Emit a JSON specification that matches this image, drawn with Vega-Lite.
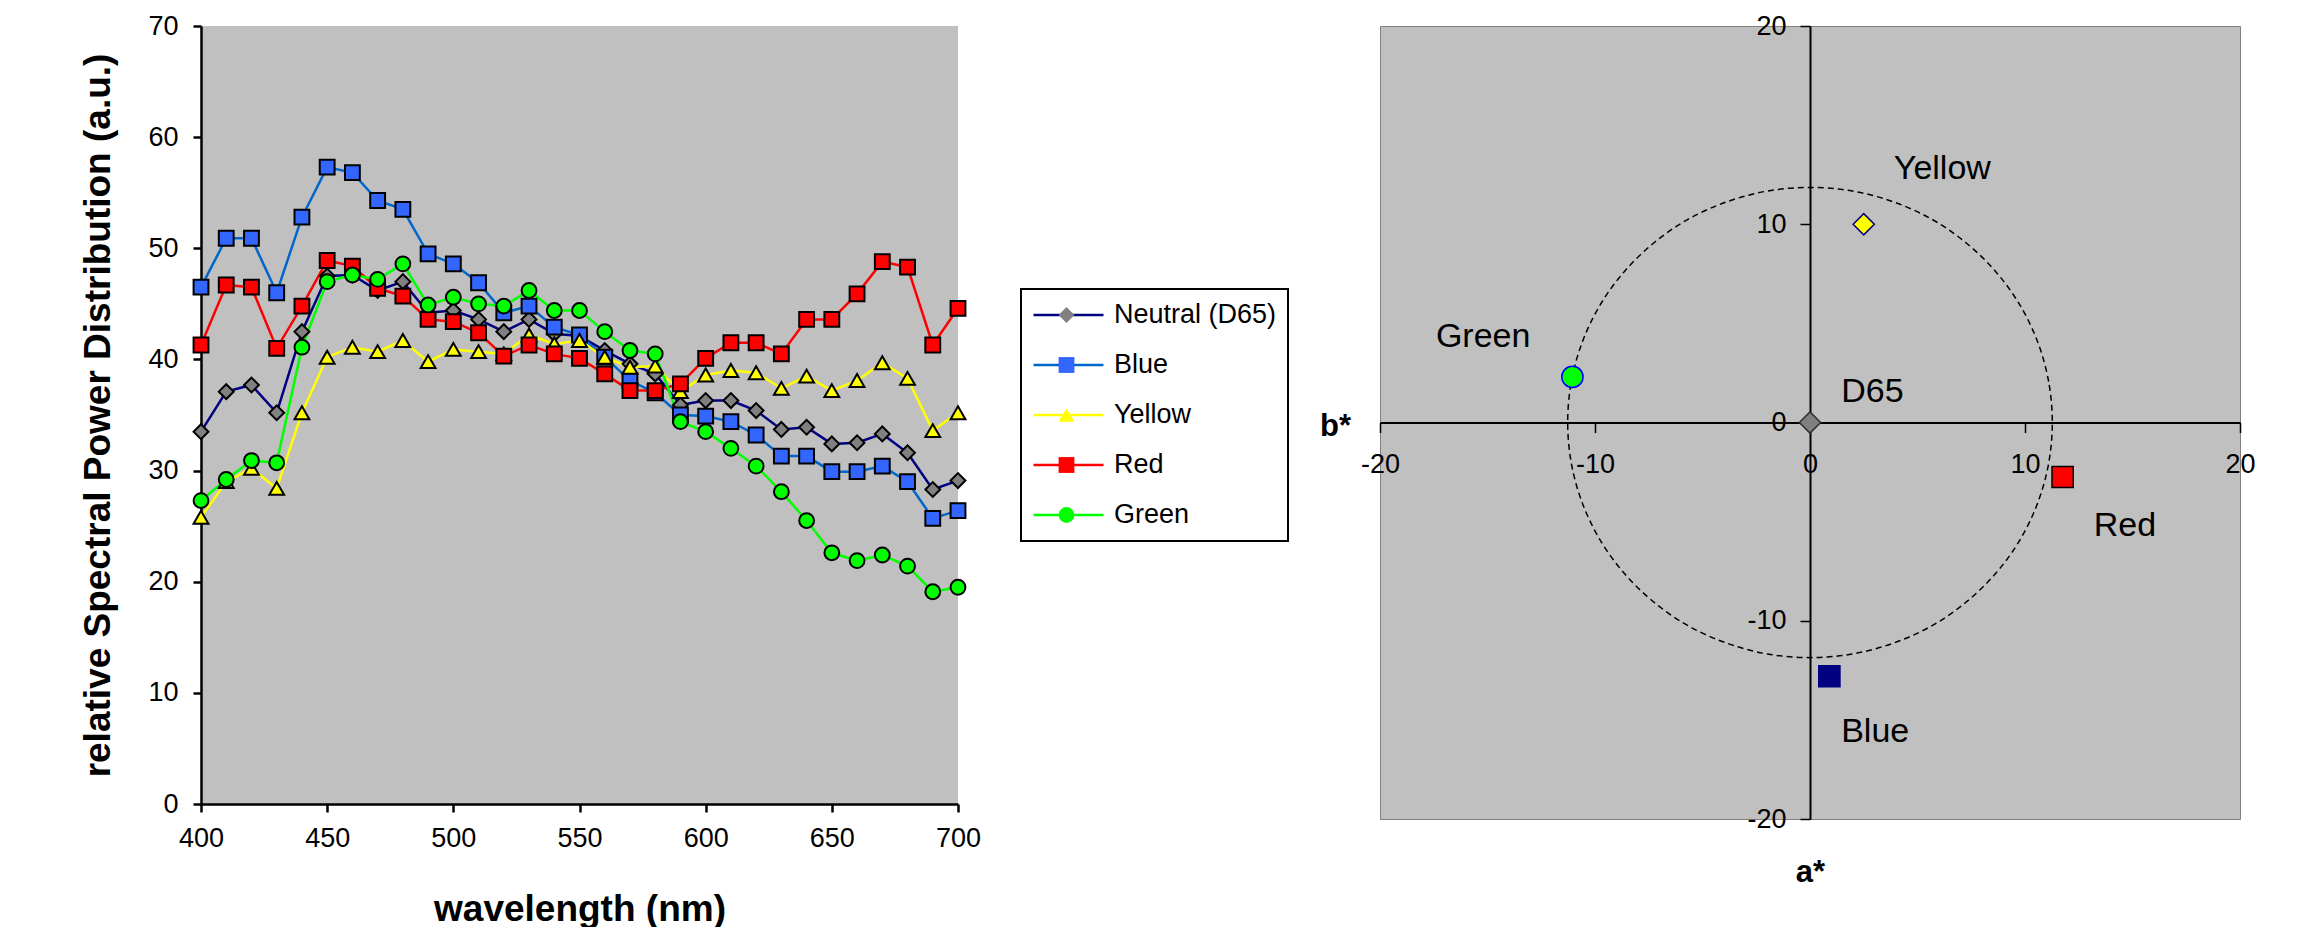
{
  "$schema": "https://vega.github.io/schema/vega-lite/v6.json",
  "padding": {"left": 79, "top": 11, "right": 0, "bottom": 0},
  "background": "white",
  "spacing": 30,
  "config": {
    "font": "Liberation Sans",
    "axis": {"labelFont": "Liberation Sans", "labelColor": "black", "titleFont": "Liberation Sans", "titleColor": "black", "grid": false, "domainColor": "black", "tickColor": "black"},
    "legend": {"labelFont": "Liberation Sans", "strokeWidth": 2},
    "text": {"font": "Liberation Sans"}
  },
  "datasets": {
    "spd": [
      {"series": "Neutral (D65)", "nm": 400, "v": 33.5}, {"series": "Neutral (D65)", "nm": 410, "v": 37.1}, {"series": "Neutral (D65)", "nm": 420, "v": 37.7}, {"series": "Neutral (D65)", "nm": 430, "v": 35.2}, {"series": "Neutral (D65)", "nm": 440, "v": 42.5}, {"series": "Neutral (D65)", "nm": 450, "v": 47.5}, {"series": "Neutral (D65)", "nm": 460, "v": 47.6}, {"series": "Neutral (D65)", "nm": 470, "v": 46.2}, {"series": "Neutral (D65)", "nm": 480, "v": 47.0}, {"series": "Neutral (D65)", "nm": 490, "v": 44.2}, {"series": "Neutral (D65)", "nm": 500, "v": 44.4}, {"series": "Neutral (D65)", "nm": 510, "v": 43.6}, {"series": "Neutral (D65)", "nm": 520, "v": 42.5}, {"series": "Neutral (D65)", "nm": 530, "v": 43.6}, {"series": "Neutral (D65)", "nm": 540, "v": 42.3}, {"series": "Neutral (D65)", "nm": 550, "v": 42.1}, {"series": "Neutral (D65)", "nm": 560, "v": 40.8}, {"series": "Neutral (D65)", "nm": 570, "v": 39.6}, {"series": "Neutral (D65)", "nm": 580, "v": 38.7}, {"series": "Neutral (D65)", "nm": 590, "v": 35.9}, {"series": "Neutral (D65)", "nm": 600, "v": 36.3}, {"series": "Neutral (D65)", "nm": 610, "v": 36.3}, {"series": "Neutral (D65)", "nm": 620, "v": 35.4}, {"series": "Neutral (D65)", "nm": 630, "v": 33.7}, {"series": "Neutral (D65)", "nm": 640, "v": 33.9}, {"series": "Neutral (D65)", "nm": 650, "v": 32.4}, {"series": "Neutral (D65)", "nm": 660, "v": 32.5}, {"series": "Neutral (D65)", "nm": 670, "v": 33.3}, {"series": "Neutral (D65)", "nm": 680, "v": 31.6}, {"series": "Neutral (D65)", "nm": 690, "v": 28.3}, {"series": "Neutral (D65)", "nm": 700, "v": 29.1},
      {"series": "Blue", "nm": 400, "v": 46.5}, {"series": "Blue", "nm": 410, "v": 50.9}, {"series": "Blue", "nm": 420, "v": 50.9}, {"series": "Blue", "nm": 430, "v": 46.0}, {"series": "Blue", "nm": 440, "v": 52.8}, {"series": "Blue", "nm": 450, "v": 57.3}, {"series": "Blue", "nm": 460, "v": 56.8}, {"series": "Blue", "nm": 470, "v": 54.3}, {"series": "Blue", "nm": 480, "v": 53.5}, {"series": "Blue", "nm": 490, "v": 49.5}, {"series": "Blue", "nm": 500, "v": 48.6}, {"series": "Blue", "nm": 510, "v": 46.9}, {"series": "Blue", "nm": 520, "v": 44.2}, {"series": "Blue", "nm": 530, "v": 44.8}, {"series": "Blue", "nm": 540, "v": 42.9}, {"series": "Blue", "nm": 550, "v": 42.2}, {"series": "Blue", "nm": 560, "v": 40.2}, {"series": "Blue", "nm": 570, "v": 38.1}, {"series": "Blue", "nm": 580, "v": 37.0}, {"series": "Blue", "nm": 590, "v": 35.0}, {"series": "Blue", "nm": 600, "v": 34.9}, {"series": "Blue", "nm": 610, "v": 34.4}, {"series": "Blue", "nm": 620, "v": 33.2}, {"series": "Blue", "nm": 630, "v": 31.3}, {"series": "Blue", "nm": 640, "v": 31.3}, {"series": "Blue", "nm": 650, "v": 29.9}, {"series": "Blue", "nm": 660, "v": 29.9}, {"series": "Blue", "nm": 670, "v": 30.4}, {"series": "Blue", "nm": 680, "v": 29.0}, {"series": "Blue", "nm": 690, "v": 25.7}, {"series": "Blue", "nm": 700, "v": 26.4},
      {"series": "Yellow", "nm": 400, "v": 25.8}, {"series": "Yellow", "nm": 410, "v": 29.0}, {"series": "Yellow", "nm": 420, "v": 30.2}, {"series": "Yellow", "nm": 430, "v": 28.4}, {"series": "Yellow", "nm": 440, "v": 35.2}, {"series": "Yellow", "nm": 450, "v": 40.2}, {"series": "Yellow", "nm": 460, "v": 41.1}, {"series": "Yellow", "nm": 470, "v": 40.7}, {"series": "Yellow", "nm": 480, "v": 41.7}, {"series": "Yellow", "nm": 490, "v": 39.8}, {"series": "Yellow", "nm": 500, "v": 40.9}, {"series": "Yellow", "nm": 510, "v": 40.7}, {"series": "Yellow", "nm": 520, "v": 40.5}, {"series": "Yellow", "nm": 530, "v": 42.2}, {"series": "Yellow", "nm": 540, "v": 41.4}, {"series": "Yellow", "nm": 550, "v": 41.7}, {"series": "Yellow", "nm": 560, "v": 40.2}, {"series": "Yellow", "nm": 570, "v": 39.3}, {"series": "Yellow", "nm": 580, "v": 39.4}, {"series": "Yellow", "nm": 590, "v": 37.1}, {"series": "Yellow", "nm": 600, "v": 38.6}, {"series": "Yellow", "nm": 610, "v": 39.0}, {"series": "Yellow", "nm": 620, "v": 38.8}, {"series": "Yellow", "nm": 630, "v": 37.4}, {"series": "Yellow", "nm": 640, "v": 38.5}, {"series": "Yellow", "nm": 650, "v": 37.2}, {"series": "Yellow", "nm": 660, "v": 38.1}, {"series": "Yellow", "nm": 670, "v": 39.7}, {"series": "Yellow", "nm": 680, "v": 38.3}, {"series": "Yellow", "nm": 690, "v": 33.6}, {"series": "Yellow", "nm": 700, "v": 35.2},
      {"series": "Red", "nm": 400, "v": 41.3}, {"series": "Red", "nm": 410, "v": 46.7}, {"series": "Red", "nm": 420, "v": 46.5}, {"series": "Red", "nm": 430, "v": 41.0}, {"series": "Red", "nm": 440, "v": 44.8}, {"series": "Red", "nm": 450, "v": 48.9}, {"series": "Red", "nm": 460, "v": 48.4}, {"series": "Red", "nm": 470, "v": 46.4}, {"series": "Red", "nm": 480, "v": 45.7}, {"series": "Red", "nm": 490, "v": 43.6}, {"series": "Red", "nm": 500, "v": 43.4}, {"series": "Red", "nm": 510, "v": 42.4}, {"series": "Red", "nm": 520, "v": 40.3}, {"series": "Red", "nm": 530, "v": 41.3}, {"series": "Red", "nm": 540, "v": 40.5}, {"series": "Red", "nm": 550, "v": 40.1}, {"series": "Red", "nm": 560, "v": 38.7}, {"series": "Red", "nm": 570, "v": 37.2}, {"series": "Red", "nm": 580, "v": 37.2}, {"series": "Red", "nm": 590, "v": 37.8}, {"series": "Red", "nm": 600, "v": 40.1}, {"series": "Red", "nm": 610, "v": 41.5}, {"series": "Red", "nm": 620, "v": 41.5}, {"series": "Red", "nm": 630, "v": 40.5}, {"series": "Red", "nm": 640, "v": 43.6}, {"series": "Red", "nm": 650, "v": 43.6}, {"series": "Red", "nm": 660, "v": 45.9}, {"series": "Red", "nm": 670, "v": 48.8}, {"series": "Red", "nm": 680, "v": 48.3}, {"series": "Red", "nm": 690, "v": 41.3}, {"series": "Red", "nm": 700, "v": 44.6},
      {"series": "Green", "nm": 400, "v": 27.3}, {"series": "Green", "nm": 410, "v": 29.2}, {"series": "Green", "nm": 420, "v": 30.9}, {"series": "Green", "nm": 430, "v": 30.7}, {"series": "Green", "nm": 440, "v": 41.1}, {"series": "Green", "nm": 450, "v": 47.0}, {"series": "Green", "nm": 460, "v": 47.6}, {"series": "Green", "nm": 470, "v": 47.2}, {"series": "Green", "nm": 480, "v": 48.6}, {"series": "Green", "nm": 490, "v": 44.9}, {"series": "Green", "nm": 500, "v": 45.6}, {"series": "Green", "nm": 510, "v": 45.0}, {"series": "Green", "nm": 520, "v": 44.8}, {"series": "Green", "nm": 530, "v": 46.2}, {"series": "Green", "nm": 540, "v": 44.4}, {"series": "Green", "nm": 550, "v": 44.4}, {"series": "Green", "nm": 560, "v": 42.5}, {"series": "Green", "nm": 570, "v": 40.8}, {"series": "Green", "nm": 580, "v": 40.5}, {"series": "Green", "nm": 590, "v": 34.4}, {"series": "Green", "nm": 600, "v": 33.5}, {"series": "Green", "nm": 610, "v": 32.0}, {"series": "Green", "nm": 620, "v": 30.4}, {"series": "Green", "nm": 630, "v": 28.1}, {"series": "Green", "nm": 640, "v": 25.5}, {"series": "Green", "nm": 650, "v": 22.6}, {"series": "Green", "nm": 660, "v": 21.9}, {"series": "Green", "nm": 670, "v": 22.4}, {"series": "Green", "nm": 680, "v": 21.4}, {"series": "Green", "nm": 690, "v": 19.1}, {"series": "Green", "nm": 700, "v": 19.5}
    ],
    "circle": [
      {"k": 0, "a": 11.27, "b": 0}, {"k": 1, "a": 11.10, "b": 2.06}, {"k": 2, "a": 10.59, "b": 4.06}, {"k": 3, "a": 9.76, "b": 5.93}, {"k": 4, "a": 8.63, "b": 7.62}, {"k": 5, "a": 7.24, "b": 9.08}, {"k": 6, "a": 5.64, "b": 10.27}, {"k": 7, "a": 3.85, "b": 11.14}, {"k": 8, "a": 1.96, "b": 11.68},
      {"k": 9, "a": 0, "b": 11.86}, {"k": 10, "a": -1.96, "b": 11.68}, {"k": 11, "a": -3.85, "b": 11.14}, {"k": 12, "a": -5.64, "b": 10.27}, {"k": 13, "a": -7.24, "b": 9.08}, {"k": 14, "a": -8.63, "b": 7.62}, {"k": 15, "a": -9.76, "b": 5.93}, {"k": 16, "a": -10.59, "b": 4.06}, {"k": 17, "a": -11.10, "b": 2.06},
      {"k": 18, "a": -11.27, "b": 0}, {"k": 19, "a": -11.10, "b": -2.06}, {"k": 20, "a": -10.59, "b": -4.06}, {"k": 21, "a": -9.76, "b": -5.93}, {"k": 22, "a": -8.63, "b": -7.62}, {"k": 23, "a": -7.24, "b": -9.08}, {"k": 24, "a": -5.64, "b": -10.27}, {"k": 25, "a": -3.85, "b": -11.14}, {"k": 26, "a": -1.96, "b": -11.68},
      {"k": 27, "a": 0, "b": -11.86}, {"k": 28, "a": 1.96, "b": -11.68}, {"k": 29, "a": 3.85, "b": -11.14}, {"k": 30, "a": 5.64, "b": -10.27}, {"k": 31, "a": 7.24, "b": -9.08}, {"k": 32, "a": 8.63, "b": -7.62}, {"k": 33, "a": 9.76, "b": -5.93}, {"k": 34, "a": 10.59, "b": -4.06}, {"k": 35, "a": 11.10, "b": -2.06}
    ],
    "pts": [
      {"name": "D65", "a": 0, "b": 0},
      {"name": "Yellow", "a": 2.5, "b": 10.0},
      {"name": "Green", "a": -11.05, "b": 2.3},
      {"name": "Red", "a": 11.75, "b": -2.75},
      {"name": "Blue", "a": 0.9, "b": -12.8}
    ],
    "texts": [
      {"name": "Yellow", "a": 3.9, "b": 12.8},
      {"name": "Green", "a": -17.4, "b": 4.3},
      {"name": "D65", "a": 1.45, "b": 1.55},
      {"name": "Red", "a": 13.2, "b": -5.2},
      {"name": "Blue", "a": 1.45, "b": -15.6}
    ]
  },
  "resolve": {"scale": {"color": "independent", "fill": "independent", "shape": "independent", "stroke": "independent"}},
  "hconcat": [
    {
      "width": 757,
      "height": 778,
      "view": {"fill": "#C0C0C0", "stroke": null},
      "data": {"name": "spd"},
      "encoding": {
        "x": {"field": "nm", "type": "quantitative", "scale": {"domain": [400, 700], "nice": false, "zero": false},
          "axis": {"values": [400, 450, 500, 550, 600, 650, 700], "domainWidth": 2.5, "tickWidth": 2.5, "tickSize": 8, "labelPadding": 13, "labelFontSize": 27, "labelFlush": false, "labelOverlap": false, "title": "wavelength (nm)", "titleFontSize": 37, "titleFontWeight": "bold", "titlePadding": 40}},
        "y": {"field": "v", "type": "quantitative", "scale": {"domain": [0, 70], "nice": false},
          "axis": {"values": [0, 10, 20, 30, 40, 50, 60, 70], "domainWidth": 2.5, "tickWidth": 2.5, "tickSize": 8, "labelPadding": 15, "labelFontSize": 27, "labelOverlap": false, "title": "relative Spectral Power Distribution (a.u.)", "titleFontSize": 37, "titleFontWeight": "bold", "titlePadding": 30}}
      },
      "layer": [
        {
          "mark": {"type": "line", "strokeWidth": 2.5},
          "encoding": {
            "color": {"field": "series", "type": "nominal", "sort": ["Neutral (D65)", "Blue", "Yellow", "Red", "Green"],
              "scale": {"range": ["#000080", "#0066CC", "#FFFF00", "#FF0000", "#00FF00"]},
              "legend": {"orient": "none", "legendX": 820, "legendY": 263, "title": null, "symbolType": "stroke", "symbolSize": 4900, "symbolStrokeWidth": 2.5, "labelFontSize": 27, "labelLimit": 0, "labelColor": "black", "labelOffset": 9, "clipHeight": 30, "rowPadding": 20, "padding": 11, "strokeColor": "black", "fillColor": "white"}}
          }
        },
        {
          "mark": {"type": "point", "filled": true, "size": 220, "stroke": "black", "strokeWidth": 2, "opacity": 1},
          "encoding": {
            "shape": {"field": "series", "type": "nominal",
              "scale": {"domain": ["Neutral (D65)", "Blue", "Yellow", "Red", "Green"], "range": ["diamond", "square", "triangle-up", "square", "circle"]},
              "legend": {"orient": "none", "legendX": 820, "legendY": 263, "title": null, "symbolSize": 250, "symbolStrokeColor": "black", "symbolStrokeWidth": 2, "symbolOpacity": 1, "symbolOffset": 21, "labelFontSize": 27, "labelLimit": 0, "labelExpr": "''", "labelOffset": 9, "clipHeight": 30, "rowPadding": 20, "padding": 11}},
            "fill": {"field": "series", "type": "nominal",
              "scale": {"domain": ["Neutral (D65)", "Blue", "Yellow", "Red", "Green"], "range": ["#808080", "#3366FF", "#FFFF00", "#FF0000", "#00FF00"]},
              "legend": {"orient": "none", "legendX": 820, "legendY": 263, "title": null, "symbolSize": 250, "symbolStrokeColor": "black", "symbolStrokeWidth": 2, "symbolOpacity": 1, "symbolOffset": 21, "labelFontSize": 27, "labelLimit": 0, "labelExpr": "''", "labelOffset": 9, "clipHeight": 30, "rowPadding": 20, "padding": 11}}
          }
        }
      ]
    },
    {
      "width": 860,
      "height": 793,
      "view": {"fill": "#C0C0C0", "stroke": "#808080", "strokeWidth": 1},
      "encoding": {
        "x": {"field": "a", "type": "quantitative", "scale": {"domain": [-20, 20], "nice": false, "zero": false},
          "axis": {"orient": "bottom", "offset": -396.5, "values": [-20, -10, 0, 10, 20], "labelExpr": "datum.value + ''", "domainWidth": 2, "tickWidth": 1.5, "tickSize": 10, "labelPadding": 19, "labelFontSize": 27, "labelFlush": false, "labelOverlap": false, "title": "a*", "titleFontSize": 31, "titleFontWeight": "bold", "titleY": 459, "titleX": 430, "titleAlign": "center", "titleBaseline": "alphabetic"}},
        "y": {"field": "b", "type": "quantitative", "scale": {"domain": [-20, 20], "nice": false, "zero": false},
          "axis": {"orient": "left", "offset": -430, "values": [-20, -10, 0, 10, 20], "labelExpr": "datum.value + ''", "domainWidth": 2, "tickWidth": 1.5, "tickSize": 10, "labelPadding": 14, "labelFontSize": 27, "labelOverlap": false, "title": "b*", "titleAngle": 0, "titleFontSize": 31, "titleFontWeight": "bold", "titleX": -475, "titleY": 409, "titleAlign": "center", "titleBaseline": "alphabetic"}}
      },
      "layer": [
        {
          "data": {"name": "circle"},
          "mark": {"type": "line", "stroke": "black", "strokeWidth": 1.5, "strokeDash": [6, 4], "interpolate": "cardinal-closed"},
          "encoding": {"order": {"field": "k", "type": "quantitative"}}
        },
        {
          "data": {"name": "pts"},
          "mark": {"type": "point", "filled": true, "size": 450, "strokeWidth": 1.5, "opacity": 1},
          "encoding": {
            "shape": {"field": "name", "type": "nominal", "scale": {"domain": ["D65", "Yellow", "Green", "Red", "Blue"], "range": ["diamond", "diamond", "circle", "square", "square"]}, "legend": null},
            "fill": {"field": "name", "type": "nominal", "scale": {"domain": ["D65", "Yellow", "Green", "Red", "Blue"], "range": ["#808080", "#FFFF00", "#00FF00", "#FF0000", "#000080"]}, "legend": null},
            "stroke": {"field": "name", "type": "nominal", "scale": {"domain": ["D65", "Yellow", "Green", "Red", "Blue"], "range": ["#303030", "#000080", "#0000FF", "#000000", "#000080"]}, "legend": null}
          }
        },
        {
          "data": {"name": "texts"},
          "mark": {"type": "text", "align": "left", "baseline": "middle", "fontSize": 34, "color": "black"},
          "encoding": {"text": {"field": "name", "type": "nominal"}}
        }
      ]
    }
  ]
}
